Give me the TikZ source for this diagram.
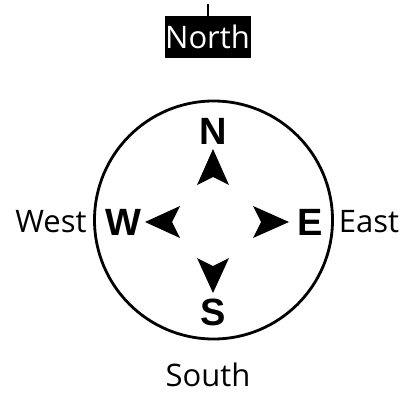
\documentclass[tikz,border=0pt]{standalone}
\usepackage{fontspec}
\setmainfont{Open Sans}
\newfontfamily\letterfont{Liberation Sans}
\tikzset{
  label/.style={font=\fontsize{31}{31}\selectfont, inner sep=0pt},
  point/.style={font=\letterfont\bfseries\fontsize{38}{38}\selectfont, inner sep=0pt},
  arrowhead/.style={fill=black, draw=none}
}
\begin{document}
\begin{tikzpicture}[x=1pt, y=-1pt]
        \useasboundingbox (0,0) rectangle (401,393);
        % compass ring
        \draw[line width=2.8pt] (213.5,220) circle (119);

        \draw[line width=1.5pt] (208,4) -- (208,16);
        \node[label, fill=black, text=white, minimum width=86pt, minimum height=42pt] (north) at (207.5,37) {North};
        \node[label] (west) at (51,222) {West};
        \node[label] (east) at (369,222) {East};
        \node[label] (south) at (208,375) {South};

        \node[point] (N) at (213,131) {N};
        \node[point] (S) at (213,312) {S};
        \node[point] (W) at (123,222) {W};
        \node[point] (E) at (310,222) {E};

        % arrow heads
        \fill[arrowhead] (213,149) -- (229,185) -- (213,177) -- (197,185) -- cycle;
        \fill[arrowhead] (213,293) -- (229,258) -- (213,266) -- (197,258) -- cycle;
        \fill[arrowhead] (145,222) -- (180,206) -- (172,222) -- (180,238) -- cycle;
        \fill[arrowhead] (289,222) -- (253,206) -- (261,222) -- (253,238) -- cycle;
\end{tikzpicture}
\end{document}
